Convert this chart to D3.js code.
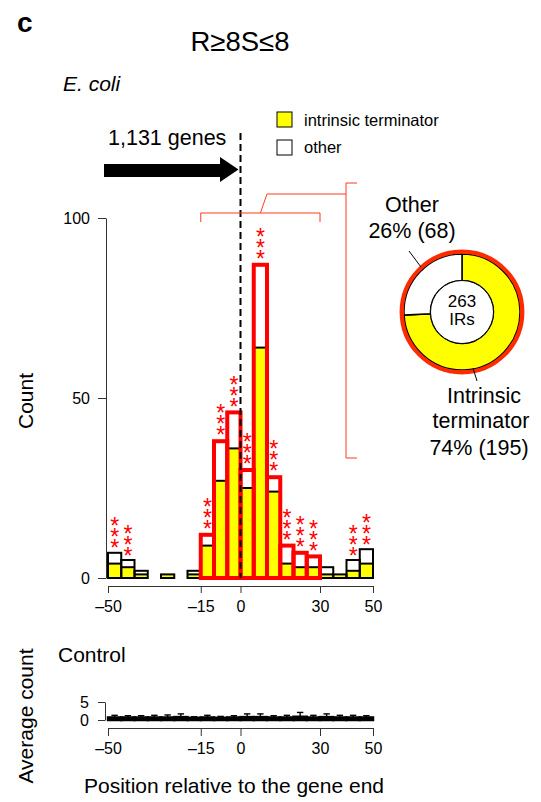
<!DOCTYPE html>
<html><head><meta charset="utf-8">
<script src="https://cdn.jsdelivr.net/npm/d3@7"></script>
<style>body{margin:0;background:#fff} svg{display:block;font-family:"Liberation Sans",Arial,Helvetica,sans-serif}</style>
</head><body><svg id="c" width="541" height="802"></svg>
<script>
// ---- data ----
const binStarts = [-50,-45,-40,-35,-30,-25,-20,-15,-10,-5,0,5,10,15,20,25,30,35,40,45];
const totalCounts = [7,5,2,0,1,0,2,12,38,46,30,87,28,9,7,6,3,1,5,8];
const terminatorCounts = [4,3,1,0,1,0,1,9,27,36,25,64,24,4,3,3,1,1,2,4];
const significant = [1,1,0,0,0,0,0,1,1,1,1,1,1,1,1,1,0,0,1,1];
const windowRange = [-15,30];
const xTickValues = [-50,-15,0,30,50];
const yTickValues = [0,50,100];
const controlYTicks = [0,5];
const controlMeans = [0.7,0.7,0.7,0.7,0.7,0.8,0.6,0.7,0.6,0.7,0.8,0.8,0.7,0.7,0.9,0.7,0.8,0.7,0.7,0.7];
const controlUpper = [1.3,1.2,1.2,1.3,1.4,1.7,0.9,1.3,1.0,1.2,1.7,1.7,1.2,1.3,2.1,1.3,1.7,1.3,1.3,1.2];
const pieCategories = ["Intrinsic terminator","Other"];
const pieValues = [195,68];
const legendItems = ["intrinsic terminator","other"];
const geneLabel = "1,131 genes";

const binWidth = 5;
const RED = "#ff0000";
const BRACKET = "#ff3b1a";
const YELLOW = "#ffff00";
const fmt = d => d < 0 ? "\u2013" + Math.abs(d) : String(d);

const svg = d3.select("#c");
const x = d3.scaleLinear().domain([-50,50]).range([108,373]);
const y = d3.scaleLinear().domain([0,100]).range([578,218]);

// ---- titles ----
svg.append("text").attr("x",17).attr("y",32).attr("font-size",28).attr("font-weight","bold").text("c");
svg.append("text").attr("x",240).attr("y",51).attr("text-anchor","middle").attr("font-size",27.5).text("R\u22658S\u22648");
svg.append("text").attr("x",63).attr("y",91).attr("font-size",21).attr("font-style","italic").text("E. coli");

// ---- legend ----
const leg = svg.append("g");
legendItems.forEach((t,i) => {
  leg.append("rect").attr("x",277).attr("y",112 + i*28).attr("width",15).attr("height",15)
    .attr("fill", i===0 ? YELLOW : "#fff").attr("stroke","#000").attr("stroke-width",1);
  leg.append("text").attr("x",304).attr("y",126 + i*27).attr("font-size",16.5).text(t);
});

// ---- gene arrow ----
svg.append("text").attr("x",108).attr("y",145).attr("font-size",21.5).text(geneLabel);
svg.append("path")
  .attr("d", `M104,164 H220 V157 L238.5,169.5 L220,182 V177 H104 Z`)
  .attr("fill","#000");

// ---- axes main ----
const yAxis = d3.axisLeft(y).tickValues(yTickValues).tickSize(8).tickSizeOuter(0).tickPadding(8).tickFormat(fmt);
const gy = svg.append("g").attr("transform","translate(106,0)").call(yAxis);
gy.selectAll("text").attr("font-size",16).attr("fill","#000").attr("font-family","Liberation Sans, Arial, sans-serif");
gy.selectAll("path,line").attr("stroke","#333");

const xAxis = d3.axisBottom(x).tickValues(xTickValues).tickSize(7).tickSizeOuter(0).tickPadding(8).tickFormat(fmt);
const gx = svg.append("g").attr("transform","translate(0,586)").call(xAxis);
gx.selectAll("text").attr("font-size",16).attr("fill","#000").attr("font-family","Liberation Sans, Arial, sans-serif");
gx.selectAll("path,line").attr("stroke","#333");

svg.append("text").attr("transform",`translate(33,401) rotate(-90)`).attr("text-anchor","middle").attr("font-size",21).text("Count");

// ---- bars ----
const bins = binStarts.map((s,i) => ({
  s, total: totalCounts[i], term: terminatorCounts[i], sig: significant[i],
  inWin: s >= windowRange[0] && s + binWidth <= windowRange[1]
}));
const bars = svg.append("g");
const drawn = bins.filter(d => d.total > 0);
bars.selectAll("rect.bg").data(drawn).join("rect")
  .attr("x", d => x(d.s)).attr("width", d => x(d.s+binWidth)-x(d.s))
  .attr("y", d => y(d.total)).attr("height", d => y(0)-y(d.total)).attr("fill","#fff");
bars.selectAll("rect.yl").data(drawn.filter(d=>d.term>0)).join("rect")
  .attr("x", d => x(d.s)).attr("width", d => x(d.s+binWidth)-x(d.s))
  .attr("y", d => y(d.term)).attr("height", d => y(0)-y(d.term)).attr("fill",YELLOW);
bars.selectAll("line.sep").data(drawn.filter(d=>d.term>0 && d.term<d.total)).join("line")
  .attr("x1", d => x(d.s)).attr("x2", d => x(d.s+binWidth))
  .attr("y1", d => y(d.term)).attr("y2", d => y(d.term)).attr("stroke","#000").attr("stroke-width",2);
const outline = g => g
  .attr("x", d => x(d.s)).attr("width", d => x(d.s+binWidth)-x(d.s))
  .attr("y", d => y(d.total)).attr("height", d => y(0)-y(d.total)).attr("fill","none");
bars.append("g").selectAll("rect").data(drawn.filter(d=>!d.inWin)).join("rect").call(outline)
  .attr("stroke","#000").attr("stroke-width",2);
bars.append("g").selectAll("rect").data(drawn.filter(d=>d.inWin)).join("rect").call(outline)
  .attr("stroke",RED).attr("stroke-width",4);

// significance stars: three stacked asterisks per bar (real text)
const starSize = 23;
const starData = [];
bins.filter(d => d.sig).forEach(d => {
  const bottom = y(d.total) - (d.inWin ? 11 : 9.5);
  for (let k = 0; k < 3; k++) starData.push({cx: x(d.s + binWidth/2), cy: bottom - k*11});
});
svg.append("g").selectAll("text").data(starData).join("text")
  .attr("x", d => d.cx).attr("y", d => d.cy + starSize*0.57)
  .attr("text-anchor","middle").attr("font-size", starSize).attr("fill", RED).text("*");

// dashed zero line
svg.append("line").attr("x1",x(0)).attr("x2",x(0)).attr("y1",133).attr("y2",y(0))
  .attr("stroke","#000").attr("stroke-width",2).attr("stroke-dasharray","7,4");

// ---- brackets ----
const br = svg.append("g").attr("fill","none").attr("stroke",BRACKET).attr("stroke-width",1);
br.append("path").attr("d", `M${x(windowRange[0])},222 V213 H${x(windowRange[1])} V222`);
br.append("path").attr("d", `M${(x(windowRange[0])+x(windowRange[1]))/2},213 L267,194 H346`);
br.append("path").attr("d", `M357,183 H346 V458 H357`);

// ---- donut ----
const cx = 462, cy = 312;
const pie = d3.pie().sort(null).startAngle(0).endAngle(2*Math.PI)(pieValues);
const arc = d3.arc().innerRadius(31.5).outerRadius(58);
const pg = svg.append("g").attr("transform",`translate(${cx},${cy})`);
pg.selectAll("path").data(pie).join("path").attr("d",arc)
  .attr("fill",(d,i)=> i===0 ? YELLOW : "#fff").attr("stroke","#000").attr("stroke-width",1.5);
pg.append("circle").attr("r",60.3).attr("fill","none").attr("stroke","#ff2a00").attr("stroke-width",4.2);
pg.append("circle").attr("r",31.5).attr("fill","#fff").attr("stroke","#000").attr("stroke-width",1);
pg.append("text").attr("y",-5.5).attr("text-anchor","middle").attr("font-size",17).text(d3.sum(pieValues));
pg.append("text").attr("y",13).attr("text-anchor","middle").attr("font-size",17).text("IRs");

const pct = v => Math.round(100*v/d3.sum(pieValues)) + "% (" + v + ")";
svg.append("text").attr("x",412).attr("y",212).attr("text-anchor","middle").attr("font-size",21.5).text(pieCategories[1]);
svg.append("text").attr("x",412).attr("y",238).attr("text-anchor","middle").attr("font-size",21.5).text(pct(pieValues[1]));
svg.append("line").attr("x1",409).attr("y1",251).attr("x2",421).attr("y2",267).attr("stroke","#000").attr("stroke-width",1);
const [w1, w2] = pieCategories[0].split(" ");
svg.append("text").attr("x",484).attr("y",403).attr("text-anchor","middle").attr("font-size",21.5).text(w1);
svg.append("text").attr("x",481).attr("y",428).attr("text-anchor","middle").attr("font-size",21.5).text(w2);
svg.append("text").attr("x",479).attr("y",455).attr("text-anchor","middle").attr("font-size",21.5).text(pct(pieValues[0]));
svg.append("line").attr("x1",473).attr("y1",368).attr("x2",477).attr("y2",381).attr("stroke","#000").attr("stroke-width",1);

// ---- control panel ----
const yc = d3.scaleLinear().domain([0,5]).range([720,702]);
svg.append("text").attr("x",58).attr("y",662).attr("font-size",21).text("Control");
const gyc = svg.append("g").attr("transform","translate(105,0)")
  .call(d3.axisLeft(yc).tickValues(controlYTicks).tickSize(7).tickSizeOuter(0).tickPadding(9).tickFormat(fmt));
gyc.selectAll("text").attr("font-size",16).attr("fill","#000").attr("font-family","Liberation Sans, Arial, sans-serif");
gyc.selectAll("path,line").attr("stroke","#333");
const gxc = svg.append("g").attr("transform","translate(0,728)")
  .call(d3.axisBottom(x).tickValues(xTickValues).tickSize(8).tickSizeOuter(0).tickPadding(7).tickFormat(fmt));
gxc.selectAll("text").attr("font-size",16).attr("fill","#000").attr("font-family","Liberation Sans, Arial, sans-serif");
gxc.selectAll("path,line").attr("stroke","#333");

const cdata = binStarts.map((s,i)=>({s, m: controlMeans[i], u: controlUpper[i]}));
const cg = svg.append("g");
cg.selectAll("rect").data(cdata).join("rect")
  .attr("x", d => x(d.s)).attr("width", d => x(d.s+binWidth)-x(d.s))
  .attr("y", d => yc(d.m)).attr("height", d => yc(0)-yc(d.m))
  .attr("fill","#000").attr("stroke","#000").attr("stroke-width",2.5);
const eg = cg.append("g").attr("stroke","#000").attr("stroke-width",1.4);
cdata.forEach(d => {
  const ex = x(d.s + binWidth/2);
  eg.append("line").attr("x1",ex).attr("x2",ex).attr("y1",yc(0)).attr("y2",yc(d.u));
  eg.append("line").attr("x1",ex-3.2).attr("x2",ex+3.2).attr("y1",yc(d.u)).attr("y2",yc(d.u));
});

svg.append("text").attr("transform",`translate(33,716) rotate(-90)`).attr("text-anchor","middle").attr("font-size",21).text("Average count");
svg.append("text").attr("x",234).attr("y",793).attr("text-anchor","middle").attr("font-size",21).text("Position relative to the gene end");
</script></body></html>
